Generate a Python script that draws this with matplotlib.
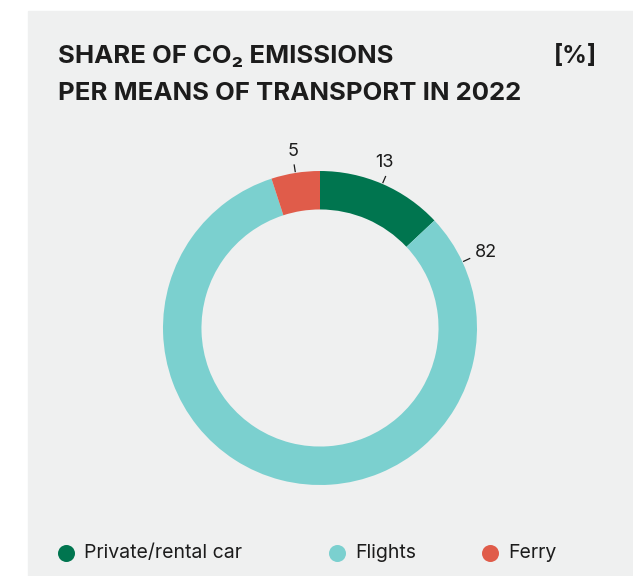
import matplotlib
matplotlib.use("Agg")
import matplotlib.pyplot as plt
from matplotlib.patches import Rectangle
import numpy as np

# ---- data ----
categories = ["Private/rental car", "Flights", "Ferry"]
values = [13, 82, 5]
value_labels = ["13", "82", "5"]
title_lines = ["SHARE OF CO\u2082 EMISSIONS", "PER MEANS OF TRANSPORT IN 2022"]
unit_label = "[%]"

# ---- style ----
colors = ["#00754F", "#7BD0CF", "#E05C4A"]
panel_color = "#EFF0F0"
text_color = "#1C1C1C"
label_pos_frac = [0.5, 0.062, 0.5]   # where along each wedge the label sits
FONT = ["Inter", "DejaVu Sans"]

W, H = 633, 576
fig = plt.figure(figsize=(W / 100, H / 100), dpi=100)
fig.patch.set_facecolor("white")

bg = fig.add_axes([0, 0, 1, 1])
bg.set_xlim(0, W)
bg.set_ylim(H, 0)
bg.axis("off")
bg.add_patch(Rectangle((28, 11), W - 28, H - 11, color=panel_color, zorder=0))

# title
TS = 18.5
bg.text(58, 63, title_lines[0], fontsize=TS, fontweight="bold", family=FONT,
        color=text_color, va="baseline", ha="left")
bg.text(58, 100, title_lines[1], fontsize=TS, fontweight="bold", family=FONT,
        color=text_color, va="baseline", ha="left")
bg.text(597, 63, unit_label, fontsize=17.5, fontweight="bold", family=FONT,
        color=text_color, va="baseline", ha="right")

# donut
cx, cy, R = 320, 328, 157
lim = 1.3
aw = 2 * R * lim
ax = fig.add_axes([(cx - R * lim) / W, 1 - (cy + R * lim) / H, aw / W, aw / H])
ax.set_facecolor("none")
wedges, _ = ax.pie(values, colors=colors, startangle=90, counterclock=False,
                   radius=1.0, wedgeprops=dict(width=0.245, linewidth=0))
ax.set_xlim(-lim, lim)
ax.set_ylim(-lim, lim)
ax.set_aspect("equal")
ax.axis("off")

for w, lab, f in zip(wedges, value_labels, label_pos_frac):
    # wedges run clockwise: from theta2 towards theta1
    deg = (w.theta2 - f * (w.theta2 - w.theta1)) % 360
    ang = np.deg2rad(deg)
    c, s = np.cos(ang), np.sin(ang)
    x0, y0, x1, y1 = 1.005 * c, 1.005 * s, 1.055 * c, 1.055 * s
    ax.plot([x0, x1], [y0, y1], color=text_color, lw=0.9,
            solid_capstyle="butt", clip_on=False)
    if 55 <= deg <= 125:
        ax.text(x1 - 0.01, y1 + 0.03, lab, ha="center", va="bottom", fontsize=13,
                family=FONT, color=text_color)
    else:
        ax.text(x1 + 0.03, y1 + 0.035, lab, ha="left", va="center", fontsize=13,
                family=FONT, color=text_color)

# legend
leg_x = [66, 337, 490]
leg_y = 553
for x, col, name in zip(leg_x, colors, categories):
    bg.scatter([x], [leg_y], s=150, color=col, linewidths=0, zorder=3)
    bg.text(x + 18, leg_y, name, fontsize=14, family=FONT, color=text_color,
            va="center", ha="left")

fig.savefig("out.png", dpi=100, facecolor="white")
